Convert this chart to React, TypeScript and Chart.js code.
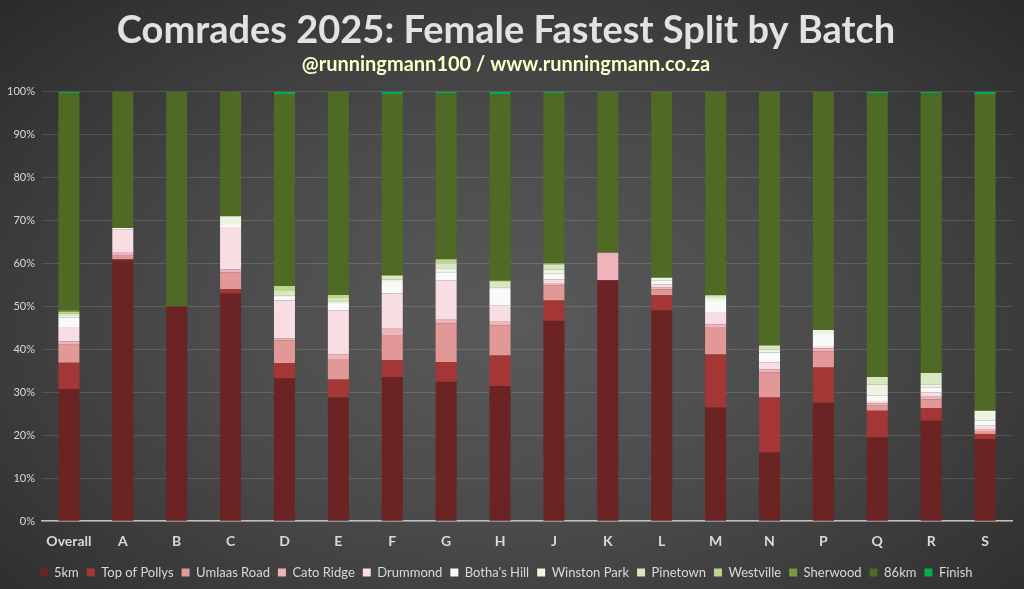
import React, { useEffect, useRef } from "react";
import { Chart, registerables } from "chart.js";

Chart.register(...registerables);

const categories = ["Overall", "A", "B", "C", "D", "E", "F", "G", "H", "J", "K", "L", "M", "N", "P", "Q", "R", "S"];

const seriesNames = ["5km", "Top of Pollys", "Umlaas Road", "Cato Ridge", "Drummond", "Botha's Hill", "Winston Park", "Pinetown", "Westville", "Sherwood", "86km", "Finish"];

const km5 = [30.8, 60.7, 50.0, 53.0, 33.3, 28.8, 33.6, 32.5, 31.5, 46.7, 56.1, 49.1, 26.5, 16.0, 27.6, 19.5, 23.4, 19.1];
const topOfPollys = [6.1, 0.3, 0, 1.0, 3.5, 4.2, 3.9, 4.6, 7.1, 4.7, 0, 3.5, 12.3, 12.8, 8.2, 6.2, 2.9, 1.2];
const umlaasRoad = [4.2, 0.8, 0, 4.0, 5.3, 4.8, 5.7, 9.0, 7.0, 3.5, 0, 1.4, 6.4, 5.9, 3.8, 1.2, 2.1, 0.7];
const catoRidge = [0.8, 0.9, 0, 0.6, 0.5, 1.1, 1.6, 0.8, 1.0, 0.6, 6.4, 0.5, 0.6, 0.7, 0.7, 0.5, 0.6, 0.5];
const drummond = [3.3, 5.3, 0, 9.9, 8.8, 10.2, 8.2, 9.2, 3.6, 0.8, 0, 0.6, 2.9, 1.6, 0.5, 0.6, 1.0, 0.7];
const bothasHill = [2.2, 0.3, 0, 0.5, 0.8, 1.5, 2.7, 1.9, 3.9, 1.3, 0, 0.9, 2.6, 2.3, 2.8, 1.2, 1.2, 1.2];
const winstonPark = [0.4, 0, 0, 2.0, 0.4, 0.6, 0.6, 0.9, 0.4, 1.0, 0, 0.7, 0.7, 0.6, 0.9, 2.6, 0.7, 2.3];
const pinetown = [0.6, 0, 0, 0, 1.0, 0.8, 0.9, 1.2, 1.2, 1.2, 0, 0, 0.6, 1.0, 0, 1.8, 2.6, 0];
const westville = [0.3, 0, 0, 0, 1.2, 0.7, 0, 0.9, 0.3, 0.2, 0, 0, 0, 0, 0, 0, 0, 0];
const sherwood = [0.4, 0, 0, 0, 0, 0, 0, 0, 0, 0, 0, 0, 0, 0, 0, 0, 0, 0];
const km86 = [50.6, 31.7, 50.0, 29.0, 44.7, 47.3, 42.3, 38.6, 43.4, 39.7, 37.5, 43.3, 47.4, 59.1, 55.5, 66.0, 65.1, 73.8];
const finish = [0.3, 0, 0, 0, 0.5, 0, 0.5, 0.4, 0.6, 0.3, 0, 0, 0, 0, 0, 0.4, 0.4, 0.5];

const seriesValues = [km5, topOfPollys, umlaasRoad, catoRidge, drummond, bothasHill, winstonPark, pinetown, westville, sherwood, km86, finish];

const seriesColors = ["#6b2323", "#a53636", "#e39898", "#efb3bb", "#f8dde2", "#fafafa", "#eef3e2", "#d9e8c0", "#bdd68e", "#7a9a3e", "#4f6a24", "#00b050"];

const yTicks = [0, 10, 20, 30, 40, 50, 60, 70, 80, 90, 100];

const titleText = "Comrades 2025: Female Fastest Split by Batch";
const subtitleText = "@runningmann100 / www.runningmann.co.za";

const FONT = "Lato, 'Open Sans', sans-serif";

export default function App() {
  const canvasRef = useRef<HTMLCanvasElement | null>(null);

  useEffect(() => {
    document.body.style.margin = "0";
    const canvas = canvasRef.current;
    if (!canvas) return;
    const chart = new Chart(canvas, {
      type: "bar",
      data: {
        labels: categories,
        datasets: seriesNames.map((name, i) => ({
          label: name,
          data: seriesValues[i],
          backgroundColor: seriesColors[i],
          borderWidth: 0,
          barPercentage: 0.39,
          categoryPercentage: 1,
        })),
      },
      options: {
        animation: false,
        responsive: false,
        maintainAspectRatio: false,
        layout: { padding: { left: 0, right: 12, top: 0, bottom: 0 } },
        plugins: {
          title: {
            display: true,
            text: titleText,
            color: "#e2e2e2",
            font: { family: FONT, size: 38, weight: "bold", lineHeight: 1.1 },
            padding: { top: 10, bottom: 0 },
          },
          subtitle: {
            display: true,
            text: subtitleText,
            color: "#ffffc8",
            font: { family: FONT, size: 20, weight: "bold", lineHeight: 1.0 },
            padding: { top: 3, bottom: 17 },
          },
          legend: {
            position: "bottom",
            labels: {
              color: "#d9d9d9",
              boxWidth: 8,
              boxHeight: 8,
              padding: 8,
              font: { family: FONT, size: 13 },
            },
          },
          tooltip: { enabled: false },
        },
        scales: {
          x: {
            stacked: true,
            grid: { display: false },
            border: { color: "#bfbfbf", width: 1.5 },
            afterFit: (axis: any) => {
              axis.height += 4;
            },
            ticks: {
              color: "#d9d9d9",
              font: { family: FONT, size: 14, weight: "bold" },
              padding: 4,
            },
          },
          y: {
            stacked: true,
            min: 0,
            max: 100,
            afterBuildTicks: (axis: any) => {
              axis.ticks = yTicks.map((v) => ({ value: v }));
            },
            grid: { color: "rgba(255,255,255,0.13)", drawTicks: false },
            border: { display: false },
            ticks: {
              color: "#d9d9d9",
              font: { family: FONT, size: 11 },
              padding: 7,
              callback: (v: any) => v + "%",
            },
          },
        },
      },
    });
    return () => chart.destroy();
  }, []);

  return (
    <div
      style={{
        width: 1024,
        height: 589,
        background: "radial-gradient(ellipse at 50% 55%, #5a5a5a 0%, #4a4a4a 45%, #2a2a2a 100%)",
      }}
    >
      <canvas ref={canvasRef} width={1024} height={589} style={{ display: "block" }} />
    </div>
  );
}
